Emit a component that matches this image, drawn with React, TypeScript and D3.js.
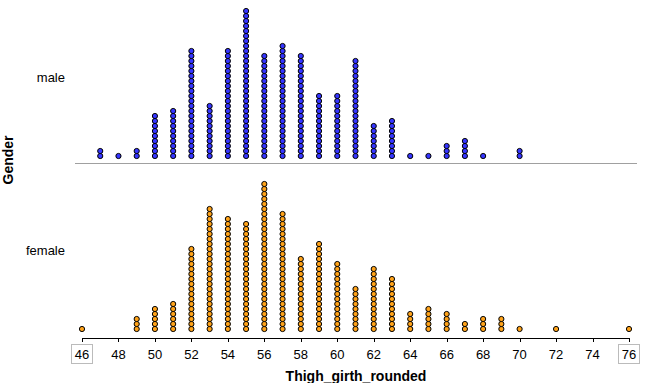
import React from "react";
import * as d3 from "d3";

const values = [46,47,48,49,50,51,52,53,54,55,56,57,58,59,60,61,62,63,64,65,66,67,68,69,70,71,72,73,74,75,76];
const maleCounts = [0,2,1,2,9,10,22,11,22,30,21,23,21,13,13,20,7,8,1,1,3,4,1,0,2,0,0,0,0,0,0];
const femaleCounts = [1,0,0,3,5,6,17,25,23,22,30,24,15,18,14,9,13,11,4,5,4,2,3,3,1,0,1,0,0,0,1];
const tickValues = [46,48,50,52,54,56,58,60,62,64,66,68,70,72,74,76];
const groups = ["male", "female"];

const W = 649, H = 383;
const FONT = "'Liberation Sans', Arial, sans-serif";

export default function App() {
  const x = d3.scaleLinear().domain([46, 76]).range([82, 629]);
  const pitch = 5;
  const baseY: Record<string, number> = { male: 156, female: 329 };
  const fills: Record<string, string> = { male: "#3535ff", female: "#ffa31a" };
  const countsBy: Record<string, number[]> = { male: maleCounts, female: femaleCounts };
  const labelY: Record<string, number> = { male: 77, female: 250 };

  const dots: React.ReactElement[] = [];
  groups.forEach((g) => {
    countsBy[g].forEach((c, i) => {
      for (let k = 0; k < c; k++) {
        dots.push(
          <circle key={`${g}-${i}-${k}`} cx={x(values[i])} cy={baseY[g] - k * pitch} r={2.6}
            fill={fills[g]} stroke="#000" strokeWidth={1} />
        );
      }
    });
  });

  const axisY = 338;
  return (
    <svg width={W} height={H} style={{ position: "absolute", left: 0, top: 0, background: "#fff" }}
      fontFamily={FONT}>
      <rect x={0} y={0} width={W} height={H} fill="#fff" />
      <line x1={75} x2={637} y1={163.5} y2={163.5} stroke="#a0a0a0" strokeWidth={1} />
      {dots}
      {groups.map((g) => (
        <text key={g} x={65} y={labelY[g]} textAnchor="end" dominantBaseline="central" fontSize={13} fill="#000">{g}</text>
      ))}
      <text transform="translate(8,160) rotate(-90)" textAnchor="middle" dominantBaseline="central"
        fontSize={14} fontWeight="bold">Gender</text>
      <line x1={x(46)} x2={x(76)} y1={axisY + 0.5} y2={axisY + 0.5} stroke="#000" />
      {tickValues.map((t) => (
        <g key={t}>
          <line x1={Math.round(x(t)) + 0.5} x2={Math.round(x(t)) + 0.5} y1={axisY} y2={axisY + 4} stroke="#000" />
          {(t === 46 || t === 76) && (
            <rect x={Math.round(x(t)) - 10.5} y={344.5} width={21} height={19} fill="none" stroke="#bbbbbb" />
          )}
          <text x={x(t)} y={354} textAnchor="middle" dominantBaseline="central" fontSize={13}>{t}</text>
        </g>
      ))}
      <text x={356} y={376} textAnchor="middle" dominantBaseline="central" fontSize={14} fontWeight="bold">Thigh_girth_rounded</text>
    </svg>
  );
}
